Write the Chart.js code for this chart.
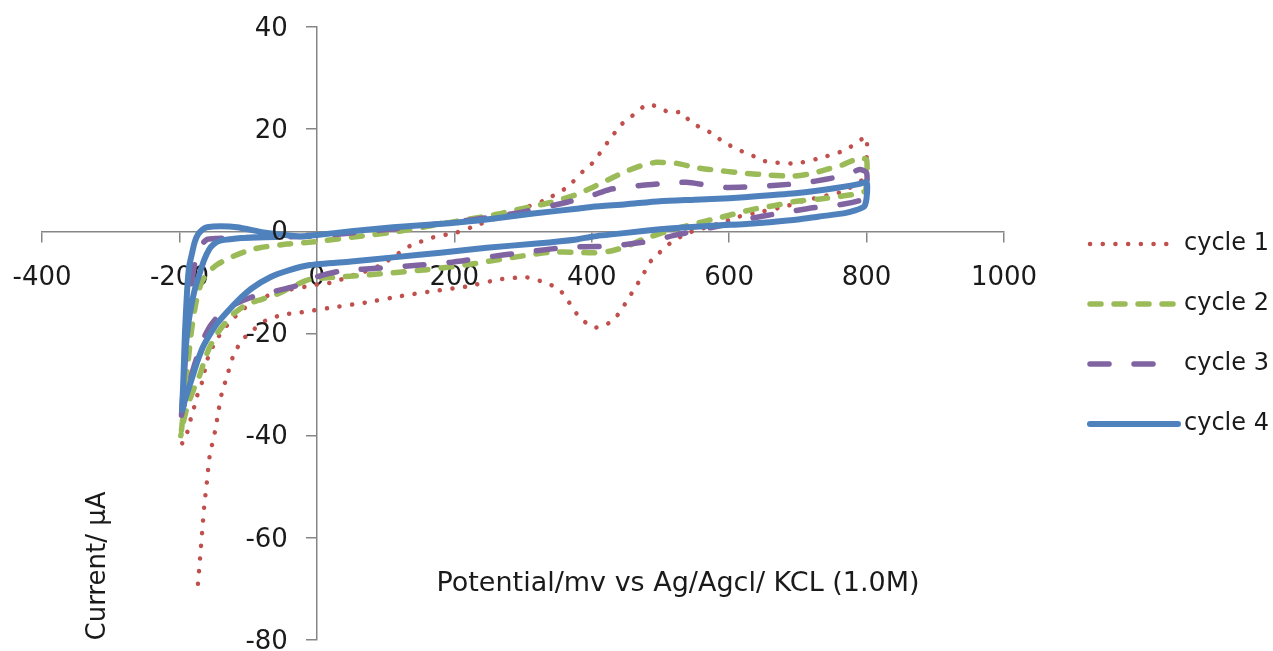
<!DOCTYPE html>
<html>
<head>
<meta charset="utf-8">
<title>Cyclic voltammogram</title>
<script src="https://cdn.jsdelivr.net/npm/chart.js@4.4.1/dist/chart.umd.min.js"></script>
<style>
  html, body { margin: 0; padding: 0; background: #fff; }
  #wrap { width: 1273px; height: 651px; position: relative; }
</style>
</head>
<body>
<div id="wrap"><canvas id="cvChart"></canvas></div>
<script>
// tick values of both axes
const xTicks = [-400, -200, 0, 200, 400, 600, 800, 1000];
const yTicks = [-80, -60, -40, -20, 0, 20, 40];

const seriesNames = ['cycle 1', 'cycle 2', 'cycle 3', 'cycle 4'];
const xTitle = 'Potential/mv vs Ag/Agcl/ KCL (1.0M)';
const yTitle = 'Current/ µA';

// [potential mV, current µA], in sweep order
const cycle1 = [[-196,-41.5],[-189,-39.5],[-185,-37.4],[-180,-35.2],[-175,-32.5],[-167,-29.5],[-158,-24.5],[-145,-21],[-127,-17.8],[-105,-15],[-83,-13.3],[-60,-12],[-39,-11.4],[-15,-10.8],[5,-10.3],[23,-10],[48,-8.8],[67,-8],[90,-6.8],[106,-5.5],[135,-2.9],[169,-1.2],[204,-0.2],[237,1.4],[270,3],[300,4.5],[330,6],[364,8.6],[387,11.7],[402,13.5],[423,17.4],[443,20.9],[458,22.5],[470,23.9],[483,24.9],[496,24.3],[509,23.5],[521,23.3],[532,23.3],[543,21.5],[557,20.4],[572,19.4],[593,17.4],[618,15.7],[633,14.9],[647,13.9],[664,13.5],[698,13.3],[731,14.3],[761,15.5],[775,16.4],[790,17.8],[800,18.4],[800,14],[797,10.5],[765,7.8],[735,6.8],[707,5.9],[680,4.8],[649,3.9],[615,2.9],[582,1.4],[547,0],[535,-0.6],[523,-1.6],[506,-3.1],[494,-4.9],[484,-6.1],[473,-9],[463,-11],[453,-13.3],[443,-15.3],[433,-17.2],[416,-18.6],[402,-18.8],[382,-16.8],[364,-13.3],[353,-11.4],[339,-10.4],[320,-9.5],[305,-9],[266,-9.4],[218,-10.8],[169,-11.7],[121,-12.7],[73,-13.9],[23,-14.9],[-25,-15.9],[-49,-16.3],[-75,-17.5],[-97,-19.8],[-110,-21.5],[-122,-24.5],[-131,-28.5],[-138,-31.5],[-143,-35],[-148,-39],[-156,-44],[-160,-49],[-164,-54],[-167,-59],[-170,-64],[-173,-69]];

const cycle2 = [[-197,-39],[-192,-32],[-187,-25],[-182,-19],[-176,-14],[-168,-10],[-158,-8],[-145,-6.5],[-127,-5.2],[-105,-4],[-83,-3.2],[-44,-2.5],[0,-2],[60,-1],[120,0],[170,1.2],[218,2.3],[260,3.3],[300,4.5],[339,5.6],[378,7.2],[401,8.6],[430,10.5],[451,11.8],[475,13],[494,13.5],[524,13.3],[550,12.5],[572,12.1],[620,11.4],[660,11],[693,10.8],[720,11.3],[741,12.1],[765,13],[790,14.4],[800,14],[800,10],[797,7.8],[765,6.9],[730,6.3],[698,5.9],[665,5],[634,4.3],[590,2.8],[547,1.4],[510,0],[474,-1.6],[450,-3],[426,-3.9],[400,-4.2],[378,-4.1],[339,-4.1],[300,-4.8],[266,-5.5],[230,-6.3],[193,-7],[160,-7.5],[120,-8],[85,-8.4],[48,-8.8],[-10,-9.4],[-35,-10.8],[-58,-12.3],[-80,-13.3],[-102,-14.3],[-120,-16],[-131,-17.6],[-145,-20],[-156,-22.7],[-163,-25],[-170,-28],[-178,-30.5],[-185,-33],[-191,-35.5],[-195,-37.8],[-198,-40]];

const cycle3 = [[-197,-36],[-193,-28],[-189,-20],[-184,-12],[-178,-6.5],[-170,-3],[-160,-1.6],[-145,-1.4],[-100,-1.2],[-50,-1.1],[0,-0.9],[60,-0.2],[120,0.6],[193,1.7],[250,2.7],[300,3.8],[364,5.7],[400,7],[426,8.2],[474,9],[510,9.4],[538,9.6],[570,9],[596,8.6],[630,8.7],[669,9],[710,9.5],[741,10.2],[770,11],[790,12.1],[800,11.5],[800,8],[795,6.3],[765,5.3],[722,4.6],[690,3.9],[650,3],[620,2.2],[590,1.2],[555,0.2],[520,-0.8],[490,-1.8],[460,-2.4],[426,-2.9],[390,-3],[364,-3.1],[320,-3.8],[290,-4.3],[256,-4.9],[193,-6.1],[150,-6.6],[100,-7.1],[33,-7.8],[0,-8.9],[-29,-10.6],[-60,-11.7],[-93,-12.8],[-120,-14.3],[-141,-16.2],[-155,-18.5],[-165,-21],[-173,-24],[-180,-27],[-186,-30],[-192,-33],[-197,-36]];

const cycle4 = [[-196,-35],[-194,-28],[-192,-20],[-189,-12],[-186,-7],[-182,-4.5],[-178,-2.2],[-173,-0.6],[-166,0.4],[-160,0.8],[-140,1],[-116,0.8],[-78,-0.2],[-54,-0.6],[-25,-1],[0,-0.7],[50,0],[111,0.8],[193,1.6],[247,2.3],[315,3.5],[378,4.4],[401,4.8],[450,5.3],[499,5.9],[550,6.2],[600,6.5],[644,6.9],[700,7.5],[741,8.2],[770,8.8],[790,9.3],[800,9.6],[800,6.5],[796,4.8],[770,3.6],[731,2.9],[700,2.3],[659,1.8],[620,1.4],[586,1.2],[540,0.8],[499,0.4],[450,-0.3],[402,-1],[378,-1.6],[320,-2.4],[247,-3.2],[180,-4.2],[111,-5.1],[50,-5.9],[-10,-6.6],[-40,-7.6],[-68,-9],[-95,-11.2],[-116,-13.7],[-132,-16],[-146,-18.2],[-157,-20.5],[-166,-22.7],[-174,-25.5],[-180,-28],[-186,-30.5],[-192,-33],[-196,-35],[-194,-29],[-191,-23],[-187,-18],[-182,-14],[-176,-10.5],[-170,-8],[-164,-5.6],[-157,-3.6],[-150,-2.5],[-140,-1.8],[-130,-1.6],[-110,-1.3],[-90,-1.2],[-60,-1.1]];

const colors = ['#C0504D', '#9BBB59', '#8064A2', '#4F81BD'];
const widths = [4.5, 5.5, 5.5, 6];
const dashes = [[0.1, 12.6], [11, 13], [19, 25], []];
const textColor = '#1a1a1a';
const axisColor = '#868686';
const fontFamily = '"DejaVu Sans", Verdana, sans-serif';

const allCycles = [cycle1, cycle2, cycle3, cycle4];

const datasets = allCycles.map((c, i) => ({
    label: seriesNames[i],
    data: c.map(p => ({ x: p[0], y: p[1] })),
    showLine: true,
    borderColor: colors[i],
    backgroundColor: colors[i],
    borderWidth: widths[i],
    borderDash: dashes[i],
    borderCapStyle: 'round',
    borderJoinStyle: 'round',
    pointRadius: 0,
    tension: 0.2,
    order: 4 - i
}));

// y labels, axis titles and the legend are painted here
const overlay = {
    id: 'overlay',
    afterDraw(chart) {
        const ctx = chart.ctx;
        const xs = chart.scales.x, ys = chart.scales.y;
        const x0 = xs.getPixelForValue(0);
        ctx.save();
        ctx.fillStyle = textColor;
        ctx.font = '26px ' + fontFamily;
        ctx.textAlign = 'right';
        ctx.textBaseline = 'middle';
        yTicks.forEach(v => ctx.fillText(String(v), x0 - 29, ys.getPixelForValue(v) + 2));

        ctx.font = '27px ' + fontFamily;
        ctx.textAlign = 'center';
        ctx.fillText(xTitle, 678, 584);
        ctx.font = '26px ' + fontFamily;
        ctx.save();
        ctx.translate(98, 566);
        ctx.rotate(-Math.PI / 2);
        ctx.fillText(yTitle, 0, 0);
        ctx.restore();

        ctx.font = '24px ' + fontFamily;
        ctx.textAlign = 'left';
        seriesNames.forEach((name, i) => {
            const ly = 244 + i * 60;
            ctx.beginPath();
            ctx.strokeStyle = colors[i];
            ctx.lineWidth = widths[i];
            ctx.lineCap = 'round';
            ctx.setLineDash(dashes[i]);
            ctx.moveTo(1090, ly);
            ctx.lineTo(1178, ly);
            ctx.stroke();
            ctx.setLineDash([]);
            ctx.fillText(name, 1184, ly);
        });
        ctx.restore();
    }
};

const noPad = s => { s.paddingLeft = 0; s.paddingRight = 0; s.paddingTop = 0; s.paddingBottom = 0; };

new Chart(document.getElementById('cvChart'), {
    type: 'scatter',
    data: { datasets: datasets },
    options: {
        responsive: true,
        maintainAspectRatio: false,
        animation: false,
        layout: { padding: { left: 42, right: 269, top: 27, bottom: 11 } },
        plugins: {
            legend: { display: false },
            tooltip: { enabled: false }
        },
        scales: {
            x: {
                type: 'linear',
                min: -400,
                max: 1000,
                position: { y: 0 },
                afterBuildTicks: s => { s.ticks = xTicks.map(v => ({ value: v })); },
                afterFit: noPad,
                ticks: {
                    color: textColor,
                    font: { family: fontFamily, size: 26 },
                    padding: 21,
                    maxRotation: 0,
                    autoSkip: false,
                    callback: v => String(v)
                },
                grid: { drawOnChartArea: false, drawTicks: true, tickLength: 10, color: axisColor, lineWidth: 1.5 },
                border: { display: true, color: axisColor, width: 1.5 }
            },
            y: {
                type: 'linear',
                min: -80,
                max: 40,
                position: { x: 0 },
                afterBuildTicks: s => { s.ticks = yTicks.map(v => ({ value: v })); },
                afterFit: noPad,
                ticks: { display: false },
                grid: { drawOnChartArea: false, drawTicks: true, tickLength: 10, color: axisColor, lineWidth: 1.5 },
                border: { display: true, color: axisColor, width: 1.5 }
            }
        }
    },
    plugins: [overlay]
});
</script>
</body>
</html>
